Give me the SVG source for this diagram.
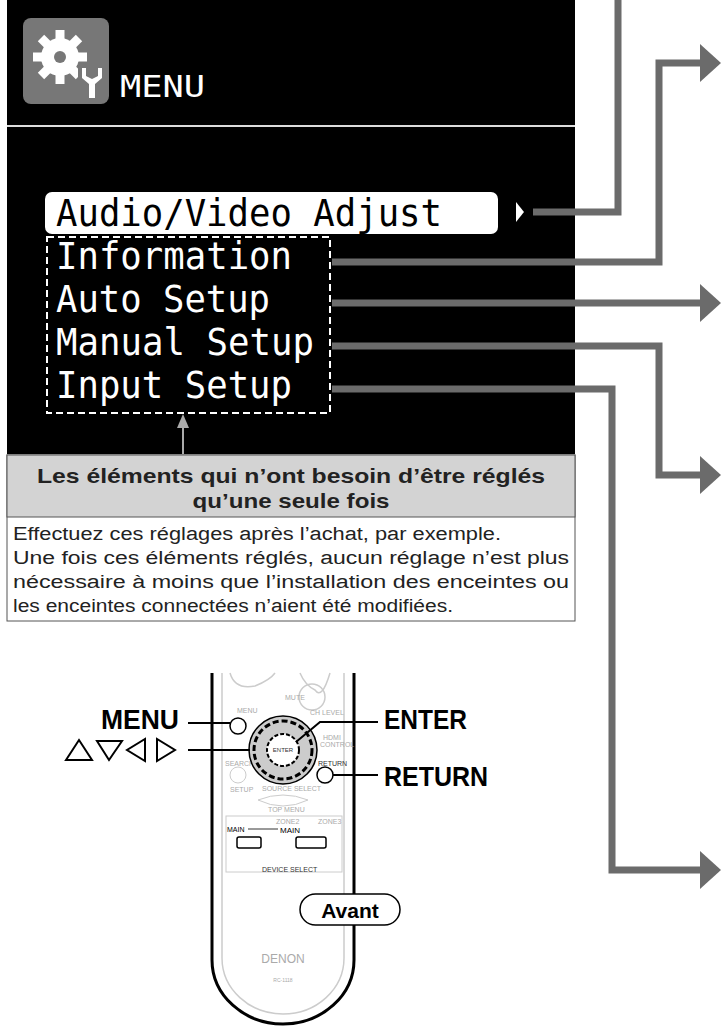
<svg xmlns="http://www.w3.org/2000/svg" width="721" height="1029" viewBox="0 0 721 1029">
<style>
.mono{font-family:"DejaVu Sans Mono",monospace;font-size:37px;fill:#fff}
.conn{fill:none;stroke:#6b6b6b;stroke-width:7}
.head{fill:#6b6b6b}
.cap{font-family:"Liberation Sans",Arial,sans-serif;font-size:21px;font-weight:bold;fill:#222}
.body{font-family:"Liberation Sans",Arial,sans-serif;font-size:18px;fill:#222}
.lbl{font-family:"Liberation Sans",Arial,sans-serif;font-weight:bold;font-size:28px;fill:#000}
.tiny{font-family:"Liberation Sans",Arial,sans-serif;font-size:7px;fill:#aaa}
.rl{stroke:#000;stroke-width:2;fill:none}
</style>
<rect width="721" height="1029" fill="#fff"/>
<g id="panel">
<rect x="7" y="0" width="568" height="454" fill="#000"/>
<line x1="7" y1="126" x2="575" y2="126" stroke="#ddd" stroke-width="2"/>
<rect x="23" y="18" width="86" height="86" rx="8" fill="#777"/>
<g fill="#fff">
<circle cx="60" cy="57" r="19"/>
<g stroke="#fff" stroke-width="9">
<line x1="60" y1="30" x2="60" y2="84"/><line x1="33" y1="57" x2="87" y2="57"/>
<line x1="41" y1="38" x2="79" y2="76"/><line x1="79" y1="38" x2="41" y2="76"/>
</g>
<circle cx="60" cy="57" r="6" fill="#777"/>
<rect x="78" y="66" width="26" height="34" fill="#777"/>
<path d="M82 68 v10 l7 6 v14 h6 v-14 l7 -6 v-10 h-4 v8 l-6 3 l-6 -3 v-8 z"/>
</g>
<text x="120" y="97" font-family="DejaVu Sans Mono,monospace" font-size="31" fill="#fff" textLength="85" lengthAdjust="spacingAndGlyphs">MENU</text>
</g>
<g id="menu-items">
<rect x="45" y="192" width="453" height="42" rx="7" fill="#fff"/>
<text x="56" y="226" class="mono" style="fill:#000" textLength="386" lengthAdjust="spacingAndGlyphs">Audio/Video Adjust</text>
<polygon points="516,202 524,212 516,222" fill="#fff"/>
<rect x="47" y="237" width="283" height="176" fill="none" stroke="#fff" stroke-width="2" stroke-dasharray="7,4"/>
<text x="56" y="269" class="mono" textLength="236" lengthAdjust="spacingAndGlyphs">Information</text>
<text x="56" y="312" class="mono" textLength="214" lengthAdjust="spacingAndGlyphs">Auto Setup</text>
<text x="56" y="355" class="mono" textLength="258" lengthAdjust="spacingAndGlyphs">Manual Setup</text>
<text x="56" y="398" class="mono" textLength="236" lengthAdjust="spacingAndGlyphs">Input Setup</text>
</g>
<g id="connectors">
<path class="conn" d="M533 212 H618 V0"/>
<path class="conn" d="M332 262 H659 V63 H702"/>
<path class="conn" d="M332 303 H702"/>
<path class="conn" d="M332 346 H659 V475 H702"/>
<path class="conn" d="M332 389 H612 V870 H702"/>
<polygon class="head" points="700,44 721,63 700,82"/>
<polygon class="head" points="700,284 721,303 700,322"/>
<polygon class="head" points="700,456 721,475 700,494"/>
<polygon class="head" points="700,851 721,870 700,889"/>
<line x1="183" y1="454" x2="183" y2="424" stroke="#aaa" stroke-width="2"/>
<polygon points="177,428 183,414 189,428" fill="#aaa"/>
</g>
<g id="caption">
<rect x="7" y="455" width="568" height="166" fill="#fff" stroke="#555" stroke-width="1"/>
<rect x="7" y="455" width="568" height="62" fill="#d3d3d3" stroke="#555" stroke-width="1"/>
<text x="291" y="483" class="cap" text-anchor="middle" textLength="508" lengthAdjust="spacingAndGlyphs">Les éléments qui n’ont besoin d’être réglés</text>
<text x="291" y="508" class="cap" text-anchor="middle" textLength="197" lengthAdjust="spacingAndGlyphs">qu’une seule fois</text>
<text x="13" y="540" class="body" textLength="488" lengthAdjust="spacingAndGlyphs">Effectuez ces réglages après l’achat, par exemple.</text>
<text x="13" y="564" class="body" textLength="556" lengthAdjust="spacingAndGlyphs">Une fois ces éléments réglés, aucun réglage n’est plus</text>
<text x="13" y="588" class="body" textLength="556" lengthAdjust="spacingAndGlyphs">nécessaire à moins que l’installation des enceintes ou</text>
<text x="13" y="612" class="body" textLength="440" lengthAdjust="spacingAndGlyphs">les enceintes connectées n’aient été modifiées.</text>
</g>
<g id="remote">
<path d="M212 673 V960 A71 64 0 0 0 354 960 V673" fill="#fff" stroke="#000" stroke-width="3"/>
<path d="M222 673 V958 A61 56 0 0 0 344 958 V673" fill="none" stroke="#ccc" stroke-width="1.5"/>
<path d="M230 673 Q235 690 255 686 Q270 680 275 673 M300 673 Q305 685 315 690 Q322 700 330 673" fill="none" stroke="#ccc" stroke-width="1.5"/>
<circle cx="312" cy="697" r="13" fill="none" stroke="#ccc" stroke-width="1.5"/>
<text x="285" y="700" class="tiny">MUTE</text>
<text x="237" y="713" class="tiny">MENU</text>
<text x="310" y="715" class="tiny">CH LEVEL</text>
<text x="323" y="740" class="tiny">HDMI</text>
<text x="320" y="747" class="tiny">CONTROL</text>
<text x="225" y="766" class="tiny">SEARCH</text>
<circle cx="238" cy="775" r="8" fill="none" stroke="#ccc"/>
<text x="230" y="792" class="tiny">SETUP</text>
<text x="262" y="791" class="tiny">SOURCE SELECT</text>
<path d="M258 800 Q283 790 308 800 Q283 812 258 800 z" fill="none" stroke="#ccc"/>
<text x="268" y="812" class="tiny">TOP MENU</text>
<rect x="226" y="816" width="116" height="56" fill="none" stroke="#ccc"/>
<text x="276" y="824" class="tiny">ZONE2</text>
<text x="318" y="824" class="tiny">ZONE3</text>
<text x="227" y="832" class="tiny" style="fill:#000">MAIN</text>
<text x="280" y="833" style="font-family:'Liberation Sans',sans-serif;font-size:8px">MAIN</text>
<line x1="248" y1="829" x2="278" y2="829" stroke="#000" stroke-width="0.8"/>
<rect x="237" y="837" width="24" height="11" rx="2" fill="none" stroke="#000" stroke-width="1.5"/>
<rect x="296" y="837" width="30" height="11" rx="2" fill="none" stroke="#000" stroke-width="1.5"/>
<text x="262" y="872" class="tiny" style="fill:#333">DEVICE SELECT</text>
<circle cx="283" cy="750" r="34" fill="#ccc" stroke="#000" stroke-width="1.5"/>
<circle cx="283" cy="750" r="29" fill="none" stroke="#000" stroke-width="3" stroke-dasharray="6,3"/>
<circle cx="283" cy="750" r="16" fill="#fff" stroke="#000" stroke-width="2" stroke-dasharray="4,2"/>
<text x="283" y="752" class="tiny" style="fill:#333;font-size:6px" text-anchor="middle">ENTER</text>
<circle cx="238" cy="726" r="8" fill="#fff" stroke="#000" stroke-width="1.5"/>
<text x="318" y="766" class="tiny" style="fill:#333">RETURN</text>
<circle cx="325" cy="775" r="8" fill="#fff" stroke="#000" stroke-width="1.5"/>
<text x="283" y="963" style="font-family:'Liberation Sans',sans-serif;font-size:12px;fill:#aaa" text-anchor="middle">DENON</text>
<text x="283" y="982" class="tiny" style="font-size:5px" text-anchor="middle">RC-1118</text>
</g>
<g id="labels">
<text x="101" y="729" class="lbl" textLength="78" lengthAdjust="spacingAndGlyphs">MENU</text>
<line x1="188" y1="723" x2="230" y2="723" class="rl"/>
<g fill="none" stroke="#000" stroke-width="2">
<polygon points="66,760 79,740 92,760"/>
<polygon points="97,741 122,741 109,760"/>
<polygon points="145,739 145,761 127,750"/>
<polygon points="157,739 157,761 175,750"/>
</g>
<line x1="188" y1="750" x2="250" y2="750" class="rl"/>
<path d="M296 742 L320 722 H378" class="rl"/>
<text x="384" y="729" class="lbl" textLength="83" lengthAdjust="spacingAndGlyphs">ENTER</text>
<line x1="333" y1="775" x2="378" y2="775" class="rl"/>
<text x="384" y="786" class="lbl" textLength="104" lengthAdjust="spacingAndGlyphs">RETURN</text>
<rect x="300" y="894" width="100" height="31" rx="15.5" fill="#fff" stroke="#000" stroke-width="1.5"/>
<text x="350" y="918" text-anchor="middle" style="font-family:'Liberation Sans',sans-serif;font-weight:bold;font-size:21px">Avant</text>
</g>
</svg>
